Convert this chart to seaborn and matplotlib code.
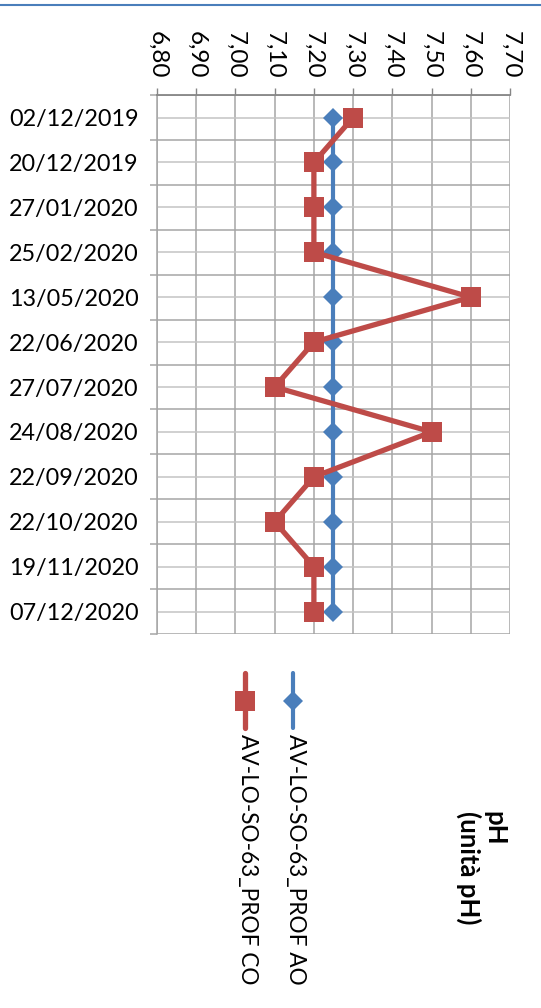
import numpy as np
import pandas as pd
import matplotlib
matplotlib.use("Agg")
import matplotlib.pyplot as plt
from matplotlib.lines import Line2D
import seaborn as sns

# ---- data ----
dates = ["02/12/2019", "20/12/2019", "27/01/2020", "25/02/2020", "13/05/2020",
         "22/06/2020", "27/07/2020", "24/08/2020", "22/09/2020", "22/10/2020",
         "19/11/2020", "07/12/2020"]
ph_ao = [7.25, 7.25, 7.25, 7.25, 7.25, 7.25, 7.25, 7.25, 7.25, 7.25, 7.25, 7.25]
ph_co = [7.30, 7.20, 7.20, 7.20, 7.60, 7.20, 7.10, 7.50, 7.20, 7.10, 7.20, 7.20]
ph_ticks = [6.8, 6.9, 7.0, 7.1, 7.2, 7.3, 7.4, 7.5, 7.6, 7.7]
ph_labels = ["6,80", "6,90", "7,00", "7,10", "7,20", "7,30", "7,40", "7,50", "7,60", "7,70"]
name_ao = "AV-LO-SO-63_PROF AO"
name_co = "AV-LO-SO-63_PROF CO"
title_txt = "pH\n(unità pH)"

blue = "#4a7ebb"
red = "#be4b48"

sns.set_theme(style="white")
plt.rcParams['font.family'] = ['Lato', 'DejaVu Sans']

df = pd.DataFrame({"data": dates, "AO": ph_ao, "CO": ph_co})

fig = plt.figure(figsize=(5.41, 10.08), dpi=100)
ax = fig.add_axes([0.2902, 0.3710, 0.6525, 0.5347])

sns.lineplot(data=df, x="AO", y="data", orient="y", sort=False, estimator=None,
             color=blue, marker="D", markersize=10.5, linewidth=3,
             markeredgewidth=0, markeredgecolor=blue, ax=ax, legend=False)
sns.lineplot(data=df, x="CO", y="data", orient="y", sort=False, estimator=None,
             color=red, marker="s", markersize=15, linewidth=3.8,
             markeredgewidth=0, markeredgecolor=red, ax=ax, legend=False)

n = len(dates)
ax.set_ylim(n - 0.5, -0.5)
ax.set_xlim(ph_ticks[0], ph_ticks[-1])

# value axis on top, rotated labels
ax.xaxis.tick_top()
ax.set_xticks(ph_ticks, labels=ph_labels)
ax.tick_params(axis="x", top=True, bottom=False, direction="out", length=5,
               width=1, color="#868686", pad=7, labelsize=17.5, labelrotation=-90,
               labelcolor="black")

# category axis: ticks at boundaries, labels at centres
ax.set_yticks(np.arange(n + 1) - 0.5, labels=[""] * (n + 1))
ax.set_yticks(np.arange(n), labels=dates, minor=True)
ax.tick_params(axis="y", which="major", left=True, direction="out", length=5,
               width=1.1, color="#a6a6a6")
ax.tick_params(axis="y", which="minor", left=False, length=0, pad=13,
               labelsize=16.8, labelcolor="black")

ax.set_xlabel("")
ax.set_ylabel("")

ax.grid(True, axis="x", which="major", color="#a6a6a6", linewidth=1.1)
ax.grid(True, axis="y", which="major", color="#a6a6a6", linewidth=1.1)
ax.grid(True, axis="y", which="minor", color="#c4c4c4", linewidth=1.1)
ax.set_axisbelow(True)

for side in ["right", "bottom"]:
    ax.spines[side].set_visible(False)
ax.spines["left"].set_color("#a6a6a6")
ax.spines["left"].set_linewidth(1.1)
ax.spines["top"].set_color("#868686")
ax.spines["top"].set_linewidth(1.3)

# thin blue rule at the very top
fig.add_artist(Line2D([0, 1], [1 - 5 / 1008] * 2, transform=fig.transFigure,
                      color=blue, linewidth=1.5))

# legend drawn vertically (rotated chart)
W, H = 541, 1008
for xpx, col, mk, ms, lw, name in [(293, blue, "D", 10.5, 3, name_ao),
                                  (245, red, "s", 15, 3.8, name_co)]:
    fig.add_artist(Line2D([xpx / W] * 2, [1 - 673 / H, 1 - 728 / H],
                          transform=fig.transFigure, color=col, linewidth=lw))
    fig.add_artist(Line2D([xpx / W], [1 - 701 / H], transform=fig.transFigure,
                          color=col, marker=mk, markersize=ms, markeredgewidth=0))
    fig.text((xpx + 2) / W, 1 - 734 / H, name, rotation=-90, rotation_mode="anchor",
             ha="left", va="center", fontsize=16.3, color="black")

fig.text(481 / W, 1 - 811 / H, title_txt, rotation=-90, rotation_mode="anchor",
         ha="left", va="center", multialignment="left", fontsize=18.5,
         fontweight="bold", color="black", linespacing=1.05)

fig.savefig("out.png", dpi=100, facecolor="white")
